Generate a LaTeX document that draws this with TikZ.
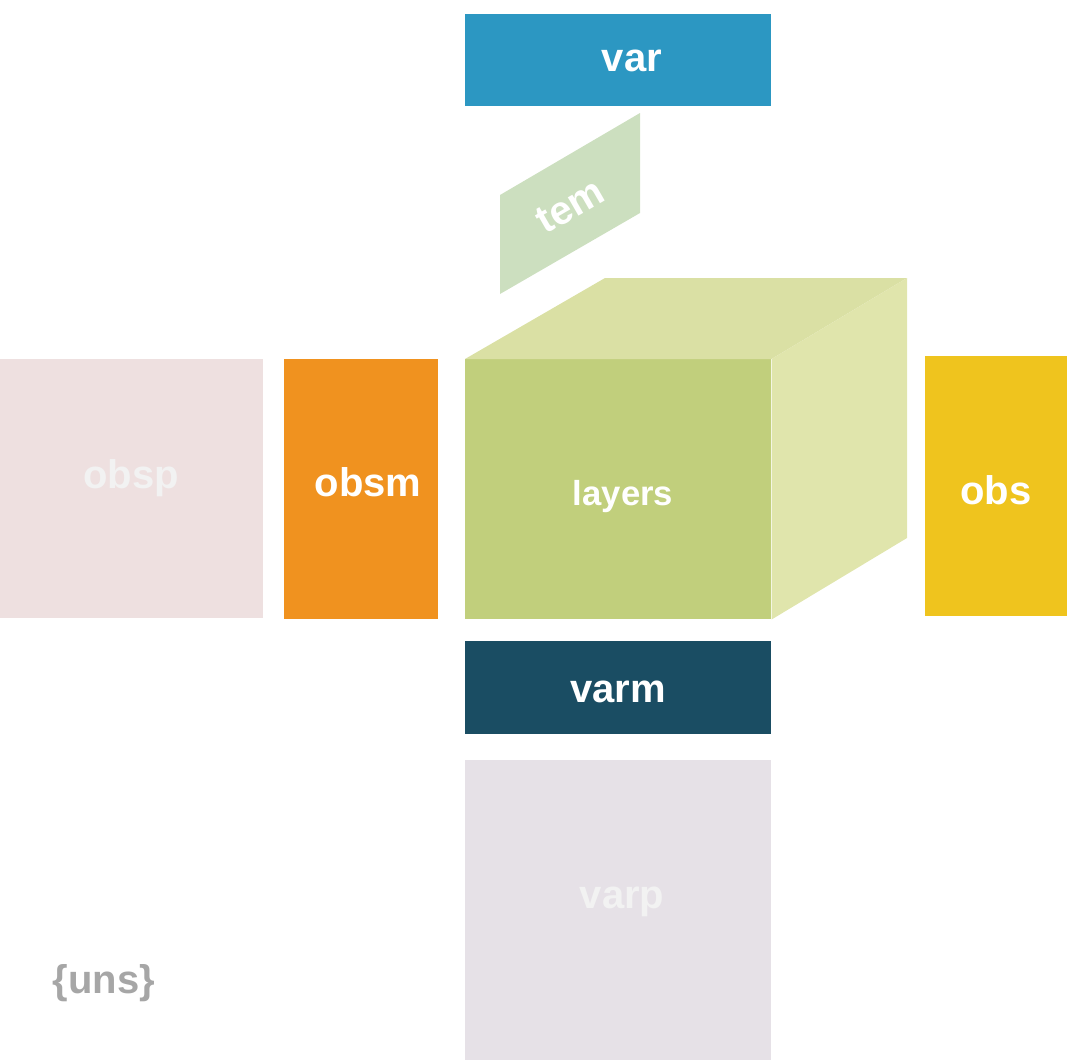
\documentclass[tikz,border=0pt]{standalone}
\usepackage{fontspec}
\setmainfont{Liberation Sans}
\usetikzlibrary{positioning}

\definecolor{varblue}{HTML}{2C97C2}
\definecolor{temgreen}{HTML}{CCDFBF}
\definecolor{layfront}{HTML}{C1CF7C}
\definecolor{laytop}{HTML}{DAE0A4}
\definecolor{layside}{HTML}{E0E5AC}
\definecolor{obspink}{HTML}{EEE0E0}
\definecolor{obsmorange}{HTML}{F0921F}
\definecolor{obsyellow}{HTML}{EFC41E}
\definecolor{varmdark}{HTML}{1A4D63}
\definecolor{varplilac}{HTML}{E6E1E7}
\definecolor{fadetext}{HTML}{F2F2F2}
\definecolor{unsgray}{HTML}{A6A6A6}

\begin{document}
\begin{tikzpicture}[
    x=0.75pt, y=-0.75pt,
    block/.style={rectangle, draw=none, anchor=north west, inner sep=0pt},
    lbl/.style={text=white, font=\bfseries\fontsize{30}{36}\selectfont, inner sep=0pt},
    lblsmall/.style={lbl, font=\bfseries\fontsize{26}{32}\selectfont},
    lblfade/.style={lbl, text=fadetext}
]
\useasboundingbox (0,0) rectangle (1067,1061);

% blocks
\node[block, fill=varblue, minimum width=229.5pt, minimum height=69pt] (Var) at (465,14) {};
\node[block, fill=layfront, minimum width=229.5pt, minimum height=195pt] (Layers) at (465,359) {};
\node[block, fill=obspink, minimum width=197.25pt, minimum height=194.25pt] (Obsp) at (0,359) {};
\node[block, fill=obsmorange, minimum width=115.5pt, minimum height=195pt] (Obsm) at (284,359) {};
\node[block, fill=obsyellow, minimum width=106.5pt, minimum height=195pt] (Obs) at (925,356) {};
\node[block, fill=varmdark, minimum width=229.5pt, minimum height=69.75pt] (Varm) at (465,641) {};
\node[block, fill=varplilac, minimum width=229.5pt, minimum height=225pt] (Varp) at (465,760) {};

% cube faces
\fill[laytop] (Layers.north west) -- ++(140,-81) -- (907,278) -- (Layers.north east) -- cycle;
\fill[layside] (Layers.north east) -- (907,278) -- (907,538) -- (Layers.south east) -- cycle;

% tem plane
\fill[temgreen] (500,195) -- (640,113) -- (640,213) -- (500,294) -- cycle;

% labels
\node[lbl] (VarText) at (632,61) {var};
\node[lbl, rotate=30] (TemText) at (570,206) {tem};
\node[lblsmall] (LayersText) at (623,497) {layers};
\node[lblfade] (ObspText) at (131,478) {obsp};
\node[lbl] (ObsmText) at (368,482) {obsm};
\node[lbl] (ObsText) at (996,490) {obs};
\node[lbl] (VarmText) at (618,692) {varm};
\node[lblfade] (VarpText) at (622,902) {varp};
\node[lbl, text=unsgray] (UnsText) at (104,983) {\{uns\}};
\end{tikzpicture}
\end{document}
